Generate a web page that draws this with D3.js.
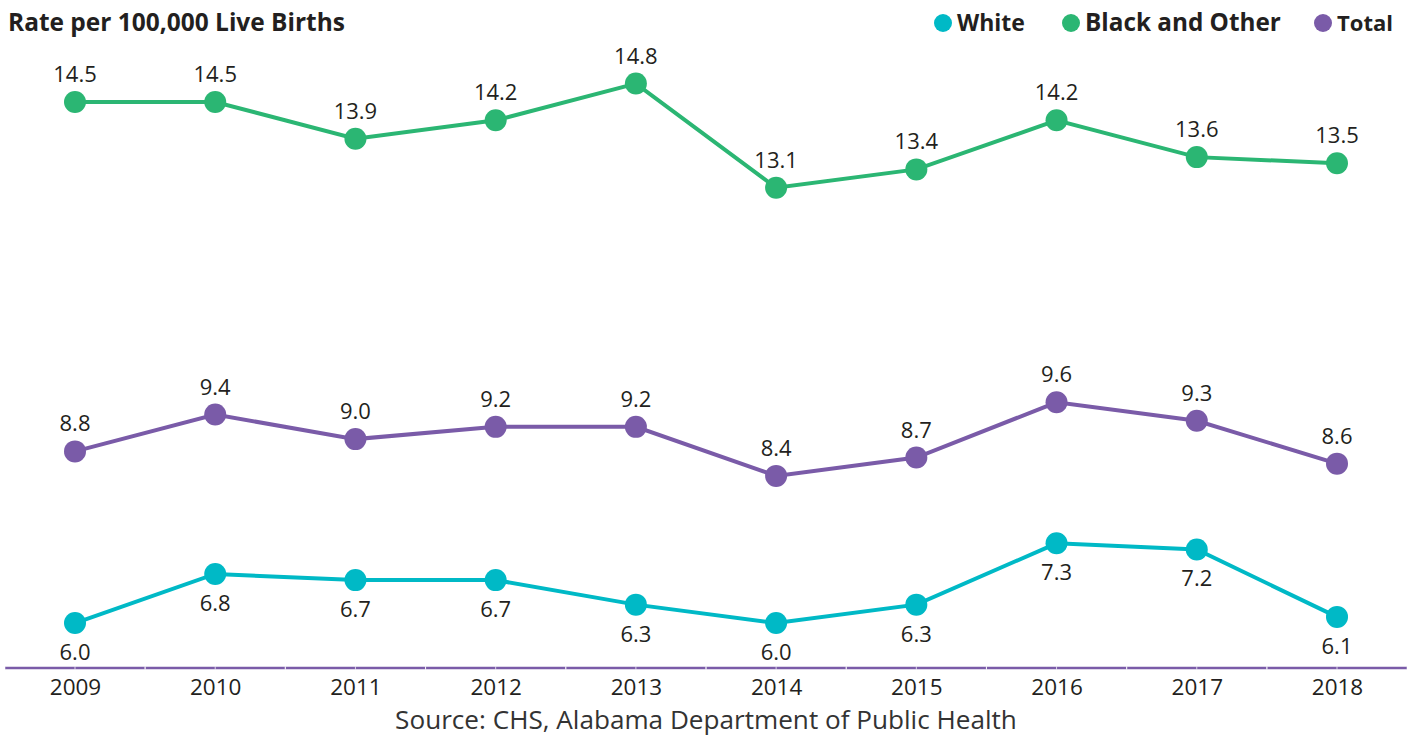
<!DOCTYPE html>
<html><head><meta charset="utf-8">
<script src="https://cdn.jsdelivr.net/npm/d3@7"></script>
<style>body{margin:0;background:#fff;} text{font-family:"Open Sans",Lato,sans-serif;fill:#231F20;}</style>
</head><body>
<svg id="c" width="1413" height="740"></svg>
<script>
const years = ["2009","2010","2011","2012","2013","2014","2015","2016","2017","2018"];
const white = [6.0,6.8,6.7,6.7,6.3,6.0,6.3,7.3,7.2,6.1];
const blackOther = [14.5,14.5,13.9,14.2,14.8,13.1,13.4,14.2,13.6,13.5];
const total = [8.8,9.4,9.0,9.2,9.2,8.4,8.7,9.6,9.3,8.6];
const seriesNames = ["White","Black and Other","Total"];
const colors = {"White":"#00B9C6","Black and Other":"#2BB673","Total":"#7A5BA8"};

const svg = d3.select("#c");
const x = d3.scalePoint().domain(years).range([75,1337]);
const y = d3.scaleLinear().domain([5.25,15]).range([669,71.3]);

const series = [
  {name:"Black and Other", values:blackOther, pos:"above"},
  {name:"Total", values:total, pos:"above"},
  {name:"White", values:white, pos:"below"}
];

function fit(sel, w){ const n=sel.node(); const l=n.getComputedTextLength(); const fs=parseFloat(sel.attr("font-size")); sel.attr("font-size", fs*w/l); }

// title
fit(svg.append("text").attr("x",8).attr("y",31).attr("font-size",22).attr("font-weight",700).text("Rate per 100,000 Live Births"), 337);

// legend
const legX = [943,1071,1323];
const legW = [68,196,56];
seriesNames.forEach((n,i)=>{
  svg.append("circle").attr("cx",legX[i]).attr("cy",23).attr("r",9).attr("fill",colors[n]);
  fit(svg.append("text").attr("x",legX[i]+14).attr("y",31).attr("font-size",22).attr("font-weight",700).text(n), legW[i]);
});

// axis
const axisG = svg.append("g").attr("transform","translate(0,668)");
axisG.append("line").attr("x1",5).attr("x2",1407).attr("stroke","#7A5BA8").attr("stroke-width",2.5);
const step = x.step();
years.forEach(yr=>{
  [x(yr)-step/2, x(yr), x(yr)+step/2].forEach(px=>{
    axisG.append("line").attr("x1",px).attr("x2",px).attr("y1",-1.5).attr("y2",1.5).attr("stroke","#fff").attr("stroke-width",0.7);
  });
});
const xAxis = d3.axisBottom(x).tickSize(0).tickPadding(0);
const ax = svg.append("g").attr("transform","translate(0,668)").call(xAxis);
ax.select(".domain").remove();
ax.selectAll("text").attr("font-size",22.5).attr("dy",0).attr("y",27).style("fill","#231F20").style("font-family","'Open Sans'");

// source
fit(svg.append("text").attr("x",706).attr("y",729).attr("text-anchor","middle").attr("font-size",22).style("fill","#333").text("Source: CHS, Alabama Department of Public Health"), 622);

const line = d3.line().x((d,i)=>x(years[i])).y(d=>y(d));
series.forEach(s=>{
  const g = svg.append("g");
  g.append("path").attr("d",line(s.values)).attr("fill","none").attr("stroke",colors[s.name]).attr("stroke-width",4);
  g.selectAll("circle").data(s.values).join("circle")
    .attr("cx",(d,i)=>x(years[i])).attr("cy",d=>y(d)).attr("r",11).attr("fill",colors[s.name]);
  g.selectAll("text").data(s.values).join("text")
    .attr("x",(d,i)=>x(years[i]))
    .attr("y",d=> s.pos==="above" ? y(d)-20 : y(d)+37)
    .attr("text-anchor","middle").attr("font-size",22)
    .text(d=>d.toFixed(1));
});
</script>
</body></html>
